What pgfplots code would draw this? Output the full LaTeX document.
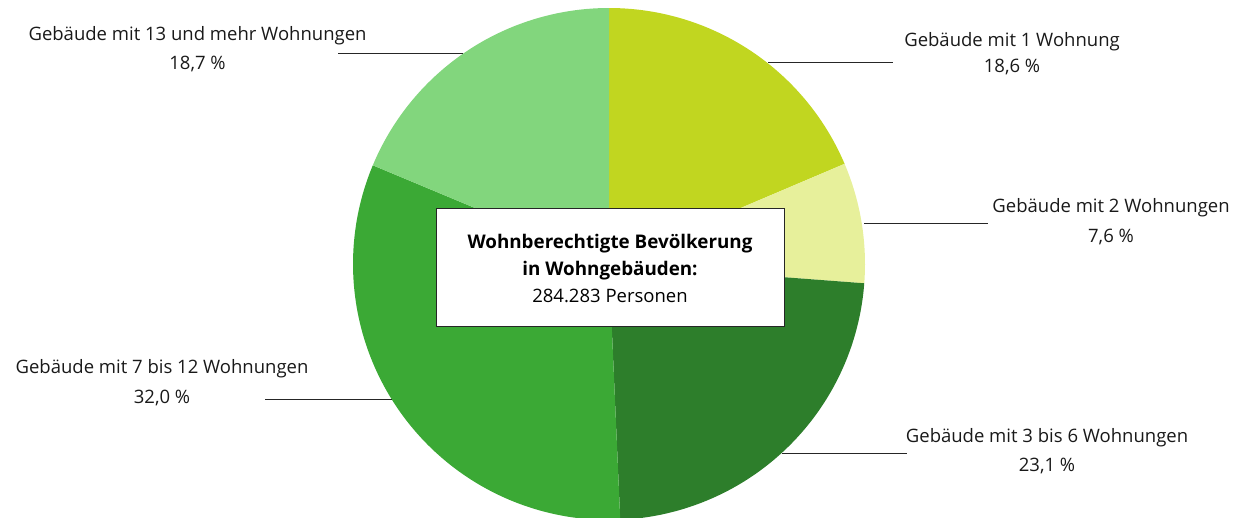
\documentclass[border=0pt]{standalone}
\usepackage{fontspec}
\setmainfont{Open Sans}
\usepackage{pgfplots}
\usepackage{pgfplotstable}
\pgfplotsset{compat=1.18}
\definecolor{cA}{HTML}{C1D620}
\definecolor{cB}{HTML}{E7F09B}
\definecolor{cC}{HTML}{2D7E2B}
\definecolor{cD}{HTML}{3BA935}
\definecolor{cE}{HTML}{82D67D}
\pgfplotstableread{
share
18.6
7.6
23.1
32.0
18.7
}\pietable
\begin{document}%
\begin{tikzpicture}
\pgfplotstablegetelem{0}{share}\of\pietable \let\sA\pgfplotsretval
\pgfplotstablegetelem{1}{share}\of\pietable \let\sB\pgfplotsretval
\pgfplotstablegetelem{2}{share}\of\pietable \let\sC\pgfplotsretval
\pgfplotstablegetelem{3}{share}\of\pietable \let\sD\pgfplotsretval
\pgfplotstablegetelem{4}{share}\of\pietable \let\sE\pgfplotsretval
\pgfmathsetmacro\aA{90}
\pgfmathsetmacro\aB{\aA-3.6*\sA}
\pgfmathsetmacro\aC{\aB-3.6*\sB}
\pgfmathsetmacro\aD{\aC-3.6*\sC}
\pgfmathsetmacro\aE{\aD-3.6*\sD}
\pgfmathsetmacro\aF{\aE-3.6*\sE}
\begin{pgfinterruptboundingbox}
\begin{axis}[
  at={(0,0)}, anchor=south west,
  scale only axis, width=1245pt, height=517pt,
  xmin=0, xmax=1245, ymin=0, ymax=517,
  hide axis, clip=true,
]
\addplot[fill=cA, draw=none, domain=\aB:\aA, samples=80] ({609+256*cos(x)},{253+256*sin(x)}) -- (axis cs:609,253) -- cycle;
\addplot[fill=cB, draw=none, domain=\aC:\aB, samples=40] ({609+256*cos(x)},{253+256*sin(x)}) -- (axis cs:609,253) -- cycle;
\addplot[fill=cC, draw=none, domain=\aD:\aC, samples=80] ({609+256*cos(x)},{253+256*sin(x)}) -- (axis cs:609,253) -- cycle;
\addplot[fill=cD, draw=none, domain=\aE:\aD, samples=100] ({609+256*cos(x)},{253+256*sin(x)}) -- (axis cs:609,253) -- cycle;
\addplot[fill=cE, draw=none, domain=\aF:\aE, samples=80] ({609+256*cos(x)},{253+256*sin(x)}) -- (axis cs:609,253) -- cycle;

% leader lines
\draw[line width=1pt, black!85] (axis cs:338,463) -- (axis cs:463,463);
\draw[line width=1pt, black!85] (axis cs:768,454) -- (axis cs:893,454);
\draw[line width=1pt, black!85] (axis cs:864,293) -- (axis cs:988,293);
\draw[line width=1pt, black!85] (axis cs:782,64) -- (axis cs:907,64);
\draw[line width=1pt, black!85] (axis cs:265,118) -- (axis cs:392,118);

% center box
\draw[fill=white, draw=black!85, line width=1pt] (axis cs:436,190) rectangle (axis cs:784,308);
\node[anchor=base, font=\fontsize{18.8}{22}\selectfont\bfseries] at (axis cs:610,268) {Wohnberechtigte Bevölkerung};
\node[anchor=base, font=\fontsize{18.8}{22}\selectfont\bfseries] at (axis cs:610,241) {in Wohngebäuden:};
\node[anchor=base, font=\fontsize{18.5}{22}\selectfont] at (axis cs:610,214) {284.283 Personen};

% labels
\tikzset{lbl/.style={anchor=base, font=\fontsize{18.5}{22}\selectfont, text=black!90}}
\node[lbl] at (axis cs:197.5,476) {Gebäude mit 13 und mehr Wohnungen};
\node[lbl] at (axis cs:197.5,447) {18,7 \%};
\node[lbl] at (axis cs:1012,470) {Gebäude mit 1 Wohnung};
\node[lbl] at (axis cs:1012,444) {18,6 \%};
\node[lbl] at (axis cs:1111,304) {Gebäude mit 2 Wohnungen};
\node[lbl] at (axis cs:1111,274) {7,6 \%};
\node[lbl] at (axis cs:1047,75) {Gebäude mit 3 bis 6 Wohnungen};
\node[lbl] at (axis cs:1047,46) {23,1 \%};
\node[lbl] at (axis cs:162,144) {Gebäude mit 7 bis 12 Wohnungen};
\node[lbl] at (axis cs:162,114) {32,0 \%};
\end{axis}
\end{pgfinterruptboundingbox}
\useasboundingbox (0,0) rectangle (1245pt,517pt);
\end{tikzpicture}%
\end{document}
